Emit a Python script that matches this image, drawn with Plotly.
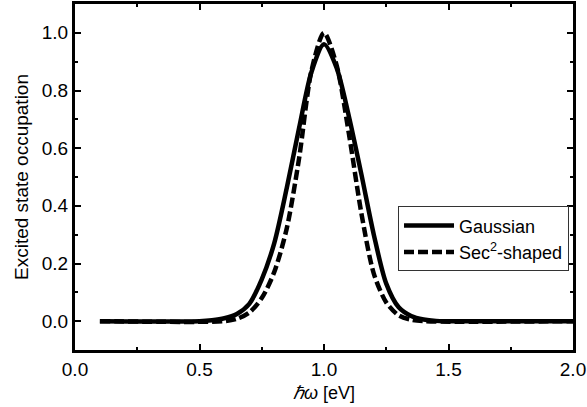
import plotly.graph_objects as go

# Data
gauss_x = [0.1, 0.5, 0.55, 0.6, 0.65, 0.7, 0.75, 0.8, 0.85, 0.9, 0.95, 1.0,
           1.05, 1.1, 1.15, 1.2, 1.25, 1.3, 1.35, 1.4, 1.45, 1.5, 2.0]
gauss_y = [0.0, 0.0, 0.003, 0.01, 0.025, 0.06, 0.145, 0.27, 0.46, 0.67, 0.865, 0.96,
           0.88, 0.71, 0.51, 0.30, 0.13, 0.048, 0.018, 0.006, 0.001, 0.0, 0.0]

sech_x = [0.1, 0.6, 0.65, 0.7, 0.75, 0.8, 0.85, 0.9, 0.95, 1.0,
          1.05, 1.1, 1.15, 1.2, 1.25, 1.3, 1.35, 1.4, 2.0]
sech_y = [0.0, 0.0, 0.008, 0.03, 0.08, 0.17, 0.32, 0.565, 0.87, 1.0,
          0.89, 0.65, 0.375, 0.165, 0.065, 0.02, 0.005, 0.0, 0.0]

series_names = ["Gaussian", "Sec<sup>2</sup>-shaped"]
x_ticks = [0.0, 0.5, 1.0, 1.5, 2.0]
y_ticks = [0.0, 0.2, 0.4, 0.6, 0.8, 1.0]

font_family = "Arial"

fig = go.Figure()
fig.add_trace(go.Scatter(x=gauss_x, y=gauss_y, mode="lines", name=series_names[0],
                         line=dict(color="black", width=4.5, shape="spline", smoothing=0.8)))
fig.add_trace(go.Scatter(x=sech_x, y=sech_y, mode="lines", name=series_names[1],
                         line=dict(color="black", width=4.5, dash="10px,4px", shape="spline", smoothing=0.8)))

axis_common = dict(
    showline=True, linecolor="black", linewidth=3, mirror="allticks",
    ticks="inside", ticklen=6, tickwidth=2, tickcolor="black",
    showgrid=False, zeroline=False, automargin=False,
    tickfont=dict(family=font_family, size=19, color="black"),
    tickformat=".1f",
)

fig.update_xaxes(range=[0, 2.0], tickvals=x_ticks,
                 minor=dict(ticks="inside", ticklen=3, tickwidth=2, tickcolor="black", dtick=0.25),
                 title=dict(text="<i>ℏω</i> [eV]", font=dict(family=font_family, size=18, color="black"),
                            standoff=8),
                 **axis_common)
fig.update_yaxes(range=[-0.1, 1.1], tickvals=y_ticks,
                 minor=dict(ticks="inside", ticklen=3, tickwidth=2, tickcolor="black", dtick=0.1),
                 title=dict(text="Excited state occupation", font=dict(family=font_family, size=19, color="black"),
                            standoff=9),
                 **axis_common)

fig.update_layout(
    width=587, height=407,
    margin=dict(l=75, r=14, t=4, b=57, autoexpand=False),
    paper_bgcolor="white", plot_bgcolor="white",
    showlegend=True,
    legend=dict(x=0.992, y=0.415, xanchor="right", yanchor="top",
                bgcolor="white", bordercolor="#333", borderwidth=1,
                font=dict(family=font_family, size=18, color="black"),
                tracegroupgap=0, itemwidth=50),
)

fig.write_html("out.html", config={"displayModeBar": False},
               post_script="document.body.style.margin='0';document.body.style.overflow='hidden';")
